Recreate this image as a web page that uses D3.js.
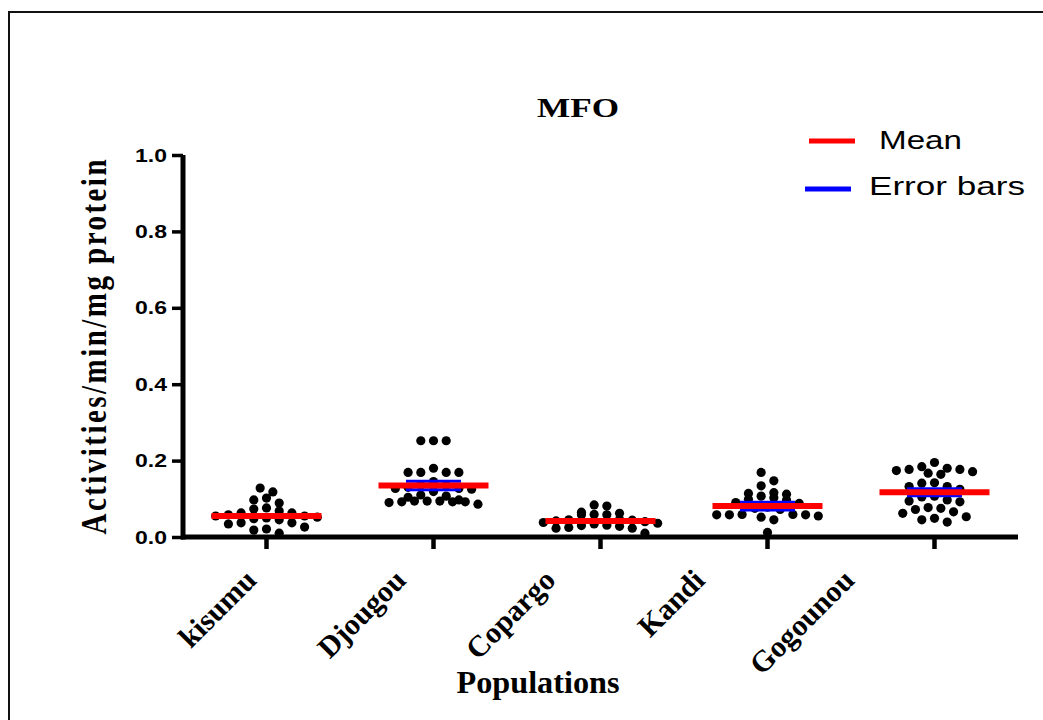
<!DOCTYPE html>
<html>
<head>
<meta charset="utf-8">
<script src="https://cdn.jsdelivr.net/npm/d3@7"></script>
<style>
  html, body { margin: 0; padding: 0; background: #fff; }
  svg { display: block; }
</style>
</head>
<body>
<div id="chart"></div>
<script>
// Populations (x categories)
const groups = ["kisumu", "Djougou", "Copargo", "Kandi", "Gogounou"];

// MFO activity per mosquito
const kisumu = [0.128, 0.118, 0.102, 0.097, 0.089, 0.076, 0.073, 0.068, 0.063, 0.063, 0.058, 0.055,
  0.055, 0.052, 0.050, 0.048, 0.045, 0.037, 0.037, 0.034, 0.026, 0.021, 0.018, 0.010];
const djougou = [0.252, 0.252, 0.252, 0.180, 0.169, 0.169, 0.169, 0.169, 0.145, 0.136, 0.135, 0.130,
  0.127, 0.127, 0.125, 0.119, 0.110, 0.107, 0.104, 0.097, 0.094, 0.094, 0.094, 0.092, 0.092, 0.092,
  0.090, 0.086];
const copargo = [0.084, 0.081, 0.065, 0.062, 0.059, 0.058, 0.058, 0.046, 0.045, 0.044, 0.042, 0.040,
  0.038, 0.036, 0.034, 0.031, 0.030, 0.028, 0.025, 0.023, 0.023, 0.010];
const kandi = [0.169, 0.147, 0.134, 0.116, 0.114, 0.112, 0.107, 0.103, 0.099, 0.097, 0.090, 0.088,
  0.078, 0.075, 0.072, 0.059, 0.059, 0.058, 0.058, 0.058, 0.055, 0.052, 0.045, 0.012];
const gogounou = [0.195, 0.184, 0.180, 0.177, 0.177, 0.174, 0.171, 0.167, 0.164, 0.142, 0.141, 0.132,
  0.132, 0.125, 0.107, 0.105, 0.097, 0.094, 0.092, 0.077, 0.075, 0.072, 0.066, 0.062, 0.053, 0.049,
  0.045, 0.039];

// mean and error (SEM) per population
const means = [0.055, 0.135, 0.042, 0.081, 0.117];
const sems = [0.004, 0.011, 0.003, 0.010, 0.009];

const yTicks = [0, 0.2, 0.4, 0.6, 0.8, 1.0];

const samples = [kisumu, djougou, copargo, kandi, gogounou];

const width = 1043, height = 720;
const serif = "'Liberation Serif', 'Times New Roman', serif";
const sans = "'Liberation Sans', Arial, sans-serif";

const svg = d3.select("#chart").append("svg")
  .attr("width", width)
  .attr("height", height);

// frame
svg.append("path")
  .attr("d", `M9,${height} V12 H${width}`)
  .attr("fill", "none")
  .attr("stroke", "#111")
  .attr("stroke-width", 2);

const xScale = d3.scaleBand()
  .domain(groups)
  .range([183, 1018]);

// label anchor positions (labels in the original sit a bit left of their ticks)
const labelScale = d3.scalePoint()
  .domain(groups)
  .range([258, 856]);

const yScale = d3.scaleLinear()
  .domain([0, 1])
  .range([537, 155]);

// Y axis
const yAxis = svg.append("g")
  .attr("transform", "translate(183,0)")
  .call(d3.axisLeft(yScale).tickValues(yTicks).tickFormat(d3.format(".1f")).tickSize(11).tickPadding(5));
yAxis.select(".domain")
  .attr("d", `M0,${yScale(1)}V${yScale(0) + 2.5}`)
  .attr("stroke", "#000")
  .attr("stroke-width", 5);
yAxis.selectAll(".tick line").attr("stroke", "#000").attr("stroke-width", 3.5);
yAxis.selectAll(".tick text")
  .attr("font-family", sans)
  .attr("font-weight", "bold")
  .attr("font-size", 19)
  .attr("fill", "#000")
  .attr("textLength", 32)
  .attr("lengthAdjust", "spacingAndGlyphs");

// X axis
const xAxis = svg.append("g")
  .attr("transform", `translate(0,${yScale(0)})`)
  .call(d3.axisBottom(xScale).tickSize(12).tickFormat(""));
xAxis.select(".domain")
  .attr("d", `M181,0H1018`)
  .attr("stroke", "#000")
  .attr("stroke-width", 5);
xAxis.selectAll(".tick line").attr("stroke", "#000").attr("stroke-width", 4.5);

svg.append("g").selectAll("text")
  .data(groups)
  .join("text")
  .attr("transform", d => `translate(${labelScale(d)},582) rotate(-45)`)
  .attr("text-anchor", "end")
  .attr("font-family", serif)
  .attr("font-weight", "bold")
  .attr("font-size", 30)
  .attr("fill", "#000")
  .text(d => d);

// scatter layout: values are grouped in rows of similar height,
// each row spread symmetrically around the column centre
const r = 4.6, step = 12.7, rowH = 9.5;
function rows(values) {
  const sorted = values.slice().sort((a, b) => b - a);
  const out = [];
  let row = [];
  const flush = () => {
    const n = row.length;
    // centre-out order so the largest value sits in the middle
    const slots = d3.range(n).map(i => (i - (n - 1) / 2) * step)
      .sort((a, b) => Math.abs(a) - Math.abs(b) || a - b);
    row.forEach((v, i) => out.push({ v, dx: slots[i] }));
    row = [];
  };
  sorted.forEach(v => {
    if (row.length && yScale(v) - yScale(row[0]) > rowH) flush();
    row.push(v);
  });
  flush();
  return out;
}

const dotData = groups.flatMap((g, i) =>
  rows(samples[i]).map(p => ({ g, cx: xScale(g) + xScale.bandwidth() / 2 + p.dx, cy: yScale(p.v) })));

svg.append("g").selectAll("circle")
  .data(dotData)
  .join("circle")
  .attr("cx", d => d.cx)
  .attr("cy", d => d.cy)
  .attr("r", r)
  .attr("fill", "#000");

// error bars
const errG = svg.append("g")
  .attr("stroke", "#0000ff")
  .attr("stroke-width", 3);
groups.forEach((g, i) => {
  const cx = xScale(g) + xScale.bandwidth() / 2;
  const lo = yScale(means[i] - sems[i]), hi = yScale(means[i] + sems[i]);
  errG.append("line").attr("x1", cx).attr("x2", cx).attr("y1", lo).attr("y2", hi);
  [lo, hi].forEach(yy => {
    errG.append("line").attr("x1", cx - 27.5).attr("x2", cx + 27.5).attr("y1", yy).attr("y2", yy);
  });
});

// means
svg.append("g").selectAll("line")
  .data(groups)
  .join("line")
  .attr("x1", d => xScale(d) + xScale.bandwidth() / 2 - 55)
  .attr("x2", d => xScale(d) + xScale.bandwidth() / 2 + 55)
  .attr("y1", (d, i) => yScale(means[i]))
  .attr("y2", (d, i) => yScale(means[i]))
  .attr("stroke", "#ff0000")
  .attr("stroke-width", 6);

// title
svg.append("text")
  .attr("x", 578)
  .attr("y", 117)
  .attr("text-anchor", "middle")
  .attr("font-family", serif)
  .attr("font-weight", "bold")
  .attr("font-size", 28)
  .attr("textLength", 82)
  .attr("lengthAdjust", "spacingAndGlyphs")
  .text("MFO");

// axis titles
svg.append("text")
  .attr("transform", "translate(106,347) scale(1.25,1) rotate(-90)")
  .attr("text-anchor", "middle")
  .attr("font-family", serif)
  .attr("font-weight", "bold")
  .attr("font-size", 29)
  .attr("textLength", 375)
  .attr("lengthAdjust", "spacing")
  .text("Activities/min/mg protein");

svg.append("text")
  .attr("x", 538)
  .attr("y", 693)
  .attr("text-anchor", "middle")
  .attr("font-family", serif)
  .attr("font-weight", "bold")
  .attr("font-size", 31)
  .attr("textLength", 163)
  .attr("lengthAdjust", "spacingAndGlyphs")
  .text("Populations");

// legend
const legend = [
  { label: "Mean", color: "#ff0000", x1: 809, x2: 855, ly: 141, tx: 879, ty: 149, tl: 83 },
  { label: "Error bars", color: "#0000ff", x1: 805, x2: 851, ly: 189, tx: 869, ty: 195, tl: 156 }
];
const lg = svg.append("g");
lg.selectAll("line")
  .data(legend)
  .join("line")
  .attr("x1", d => d.x1).attr("x2", d => d.x2)
  .attr("y1", d => d.ly).attr("y2", d => d.ly)
  .attr("stroke", d => d.color)
  .attr("stroke-width", 5);
lg.selectAll("text")
  .data(legend)
  .join("text")
  .attr("x", d => d.tx)
  .attr("y", d => d.ty)
  .attr("font-family", sans)
  .attr("font-size", 25)
  .attr("textLength", d => d.tl)
  .attr("lengthAdjust", "spacingAndGlyphs")
  .text(d => d.label);
</script>
</body>
</html>
